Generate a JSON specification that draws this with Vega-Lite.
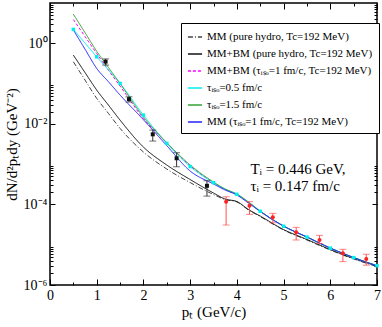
{
  "$schema": "https://vega.github.io/schema/vega-lite/v6.json",
  "width": 327,
  "height": 282,
  "autosize": "none",
  "padding": {"left": 50, "top": 3, "right": 5, "bottom": 42},
  "config": {
    "view": {"stroke": "black", "strokeWidth": 1.5},
    "axis": {"domain": false, "grid": false, "tickColor": "black", "tickWidth": 1, "labelFont": "Liberation Serif", "labelFontSize": 14, "labelColor": "black", "titleFont": "Liberation Serif", "titleFontSize": 15, "titleFontWeight": "normal", "titleColor": "black", "labelFlush": false}
  },
  "datasets": {
    "curves": [
      {"x": 0.5, "A": 0.3475, "B": 0.509, "C": 3.89, "D": 2.21, "E": 5.25, "F": 2.14},
      {"x": 0.75, "A": 0.122, "B": 0.1875, "C": 1.47, "D": 1.01, "E": 1.83, "F": 0.714},
      {"x": 1.0, "A": 0.043, "B": 0.069, "C": 0.556, "D": 0.462, "E": 0.635, "F": 0.238},
      {"x": 1.25, "A": 0.01824, "B": 0.0293, "C": 0.216, "D": 0.219, "E": 0.252, "F": 0.1114},
      {"x": 1.5, "A": 0.00773, "B": 0.0124, "C": 0.0867, "D": 0.101, "E": 0.1, "F": 0.0519},
      {"x": 2.0, "A": 0.002, "B": 0.00265, "C": 0.01355, "D": 0.0165, "E": 0.01476, "F": 0.01265},
      {"x": 2.5, "A": 0.000755, "B": 0.00095, "C": 0.00334, "D": 0.00328, "E": 0.00342, "F": 0.00288},
      {"x": 3.0, "A": 0.000349, "B": 0.000415, "C": 0.00091, "D": 0.00087, "E": 0.000955, "F": 0.000675},
      {"x": 3.5, "A": 0.000176, "B": 0.000192, "C": 0.000347, "D": 0.000347, "E": 0.00036, "F": 0.000321},
      {"x": 3.75, "A": 0.000132, "B": 0.000136, "C": 0.000234, "D": 0.000238, "E": 0.000241, "F": 0.000228},
      {"x": 4.0, "A": 0.000115, "B": 0.000118, "C": 0.000178, "D": 0.000178, "E": 0.000181, "F": 0.000171},
      {"x": 4.25, "A": 0.0000726, "B": 0.0000746, "C": 0.000112, "D": 0.000113, "E": 0.000115, "F": 0.000108},
      {"x": 4.5, "A": 0.00005, "B": 0.0000515, "C": 0.0000676, "D": 0.0000676, "E": 0.0000685, "F": 0.0000667},
      {"x": 5.0, "A": 0.0000232, "B": 0.0000238, "C": 0.0000288, "D": 0.0000288, "E": 0.0000291, "F": 0.0000291},
      {"x": 5.5, "A": 0.0000131, "B": 0.0000135, "C": 0.0000155, "D": 0.0000155, "E": 0.0000155, "F": 0.0000155},
      {"x": 6.0, "A": 0.00000738, "B": 0.0000076, "C": 0.00000822, "D": 0.00000822, "E": 0.00000828, "F": 0.00000828},
      {"x": 6.5, "A": 0.00000442, "B": 0.00000455, "C": 0.00000479, "D": 0.00000479, "E": 0.00000481, "F": 0.00000481},
      {"x": 7.0, "A": 0.00000288, "B": 0.00000296, "C": 0.00000302, "D": 0.00000302, "E": 0.00000305, "F": 0.00000296}
    ],
    "pts": [
      {"set": "low", "x": 1.19, "y": 0.35, "lo": 0.288, "hi": 0.41},
      {"set": "low", "x": 1.69, "y": 0.041, "lo": 0.0348, "hi": 0.047},
      {"set": "low", "x": 2.2, "y": 0.0055, "lo": 0.00374, "hi": 0.007},
      {"set": "low", "x": 2.71, "y": 0.0014, "lo": 0.00086, "hi": 0.00192},
      {"set": "low", "x": 3.36, "y": 0.00029, "lo": 0.000161, "hi": 0.000387},
      {"set": "high", "x": 3.77, "y": 0.000117, "lo": 0.0000308, "hi": 0.000155},
      {"set": "high", "x": 4.27, "y": 0.000093, "lo": 0.0000567, "hi": 0.000117},
      {"set": "high", "x": 4.77, "y": 0.000048, "lo": 0.000035, "hi": 0.00006},
      {"set": "high", "x": 5.27, "y": 0.0000203, "lo": 0.0000131, "hi": 0.000027},
      {"set": "high", "x": 5.77, "y": 0.000013, "lo": 0.0000108, "hi": 0.0000171},
      {"set": "high", "x": 6.27, "y": 0.0000061, "lo": 0.0000038, "hi": 0.0000077},
      {"set": "high", "x": 6.77, "y": 0.0000044, "lo": 0.0000031, "hi": 0.0000058}
    ],
    "notes": [
      {"x": 4.29, "y": 0.00076, "t": "Tᵢ = 0.446 GeV,"},
      {"x": 4.29, "y": 0.000286, "t": "τᵢ = 0.147 fm/c"}
    ]
  },
  "layer": [
    {
      "data": {"name": "curves"},
      "transform": [{"fold": ["A", "B", "C", "D", "E", "F"], "as": ["s", "y"]}],
      "mark": {"type": "line", "strokeWidth": 1, "interpolate": "monotone"},
      "encoding": {
        "x": {"field": "x", "type": "quantitative", "scale": {"domain": [0, 7], "nice": false, "zero": false},
              "axis": {"orient": "bottom", "values": [0, 1, 2, 3, 4, 5, 6, 7], "tickSize": -6, "labelPadding": 9, "format": "d", "title": "pₜ (GeV/c)", "titlePadding": 2}},
        "y": {"field": "y", "type": "quantitative", "scale": {"type": "log", "domain": [0.000001, 10], "nice": false},
              "axis": {"orient": "left", "values": [0.000001, 0.0001, 0.01, 1], "tickSize": -5, "labelPadding": 8, "labelExpr": "datum.value < 0.00001 ? '10⁻⁶' : datum.value < 0.001 ? '10⁻⁴' : datum.value < 0.1 ? '10⁻²' : '10⁰'", "title": "dN/d²pₜdy (GeV⁻²)", "titlePadding": 4}},
        "color": {"field": "s", "type": "nominal",
                  "scale": {"domain": ["A", "B", "C", "D", "E", "F"],
                            "range": ["#444444", "#111111", "#ff00ff", "#00eeee", "#33a033", "#2222ff"]},
                  "legend": {"orient": "none", "legendX": 131, "legendY": 20, "title": null, "strokeColor": "black", "fillColor": "white", "padding": 6, "labelFont": "Liberation Serif", "labelFontSize": 11, "labelColor": "black", "labelLimit": 300, "symbolType": "stroke", "symbolSize": 200, "symbolStrokeWidth": 1.5, "rowPadding": 4,
                             "labelExpr": "datum.label === 'A' ? 'MM (pure hydro, Tc=192 MeV)' : datum.label === 'B' ? 'MM+BM (pure hydro, Tc=192 MeV)' : datum.label === 'C' ? 'MM+BM (τᵢₛₒ=1 fm/c, Tc=192 MeV)' : datum.label === 'D' ? 'τᵢₛₒ=0.5 fm/c' : datum.label === 'E' ? 'τᵢₛₒ=1.5 fm/c' : 'MM (τᵢₛₒ=1 fm/c, Tc=192 MeV)'"}},
        "strokeDash": {"field": "s", "type": "nominal",
                  "scale": {"domain": ["A", "B", "C", "D", "E", "F"],
                            "range": [[5, 2, 1, 2], [1, 0], [3, 2], [1, 0], [1, 0], [1, 0]]},
                  "legend": {"orient": "none", "legendX": 131, "legendY": 20, "title": null, "strokeColor": "black", "fillColor": "white", "padding": 6, "labelFont": "Liberation Serif", "labelFontSize": 11, "labelColor": "black", "labelLimit": 300, "symbolType": "stroke", "symbolSize": 200, "symbolStrokeWidth": 1.5, "rowPadding": 4,
                             "labelExpr": "datum.label === 'A' ? 'MM (pure hydro, Tc=192 MeV)' : datum.label === 'B' ? 'MM+BM (pure hydro, Tc=192 MeV)' : datum.label === 'C' ? 'MM+BM (τᵢₛₒ=1 fm/c, Tc=192 MeV)' : datum.label === 'D' ? 'τᵢₛₒ=0.5 fm/c' : datum.label === 'E' ? 'τᵢₛₒ=1.5 fm/c' : 'MM (τᵢₛₒ=1 fm/c, Tc=192 MeV)'"}}
      }
    },
    {
      "data": {"name": "curves"},
      "transform": [{"filter": "(datum.x * 2) % 1 === 0"}],
      "mark": {"type": "point", "shape": "square", "filled": true, "size": 12, "color": "#00eeee", "opacity": 1},
      "encoding": {
        "x": {"field": "x", "type": "quantitative", "scale": {"domain": [0, 7], "nice": false, "zero": false},
              "axis": {"orient": "bottom", "values": [0.5, 1.5, 2.5, 3.5, 4.5, 5.5, 6.5], "tickSize": -3, "labels": false, "title": null}},
        "y": {"field": "D", "type": "quantitative", "scale": {"type": "log", "domain": [0.000001, 10], "nice": false},
              "axis": {"orient": "left", "values": [0.000002, 0.000003, 0.000004, 0.000005, 0.000006, 0.000007, 0.000008, 0.000009, 0.0002, 0.0003, 0.0004, 0.0005, 0.0006, 0.0007, 0.0008, 0.0009, 0.02, 0.03, 0.04, 0.05, 0.06, 0.07, 0.08, 0.09, 2, 3, 4, 5, 6, 7, 8, 9], "tickSize": -3, "labels": false, "title": null}}
      }
    },
    {
      "data": {"name": "pts"},
      "transform": [{"filter": "datum.set === 'low'"}],
      "mark": {"type": "errorbar", "ticks": {"size": 7, "color": "#333333"}, "rule": {"color": "#333333"}},
      "encoding": {
        "x": {"field": "x", "type": "quantitative", "scale": {"domain": [0, 7], "nice": false, "zero": false},
              "axis": {"orient": "top", "values": [0, 1, 2, 3, 4, 5, 6, 7], "tickSize": -6, "labels": false, "title": null}},
        "y": {"field": "lo", "type": "quantitative", "scale": {"type": "log", "domain": [0.000001, 10], "nice": false},
              "axis": {"orient": "right", "values": [0.000001, 0.0001, 0.01, 1], "tickSize": -5, "labels": false, "title": null}},
        "y2": {"field": "hi"}
      }
    },
    {
      "data": {"name": "pts"},
      "transform": [{"filter": "datum.set === 'high'"}],
      "mark": {"type": "errorbar", "ticks": {"size": 7, "color": "#ff5050"}, "rule": {"color": "#ff5050"}},
      "encoding": {
        "x": {"field": "x", "type": "quantitative", "scale": {"domain": [0, 7], "nice": false, "zero": false},
              "axis": {"orient": "top", "values": [0.5, 1.5, 2.5, 3.5, 4.5, 5.5, 6.5], "tickSize": -3, "labels": false, "title": null}},
        "y": {"field": "lo", "type": "quantitative", "scale": {"type": "log", "domain": [0.000001, 10], "nice": false},
              "axis": {"orient": "right", "values": [0.000002, 0.000003, 0.000004, 0.000005, 0.000006, 0.000007, 0.000008, 0.000009, 0.0002, 0.0003, 0.0004, 0.0005, 0.0006, 0.0007, 0.0008, 0.0009, 0.02, 0.03, 0.04, 0.05, 0.06, 0.07, 0.08, 0.09, 2, 3, 4, 5, 6, 7, 8, 9], "tickSize": -3, "labels": false, "title": null}},
        "y2": {"field": "hi"}
      }
    },
    {
      "data": {"name": "pts"},
      "transform": [{"filter": "datum.set === 'low'"}],
      "mark": {"type": "point", "shape": "square", "filled": true, "size": 16, "color": "#111111", "opacity": 1},
      "encoding": {
        "x": {"field": "x", "type": "quantitative", "scale": {"domain": [0, 7], "nice": false, "zero": false}, "axis": null},
        "y": {"field": "y", "type": "quantitative", "scale": {"type": "log", "domain": [0.000001, 10], "nice": false}, "axis": null}
      }
    },
    {
      "data": {"name": "pts"},
      "transform": [{"filter": "datum.set === 'high'"}],
      "mark": {"type": "point", "shape": "circle", "filled": true, "size": 16, "color": "#ff2020", "opacity": 1},
      "encoding": {
        "x": {"field": "x", "type": "quantitative", "scale": {"domain": [0, 7], "nice": false, "zero": false}, "axis": null},
        "y": {"field": "y", "type": "quantitative", "scale": {"type": "log", "domain": [0.000001, 10], "nice": false}, "axis": null}
      }
    },
    {
      "data": {"name": "notes"},
      "mark": {"type": "text", "align": "left", "baseline": "middle", "font": "Liberation Serif", "fontSize": 15, "color": "black"},
      "encoding": {
        "x": {"field": "x", "type": "quantitative", "scale": {"domain": [0, 7], "nice": false, "zero": false}, "axis": null},
        "y": {"field": "y", "type": "quantitative", "scale": {"type": "log", "domain": [0.000001, 10], "nice": false}, "axis": null},
        "text": {"field": "t"}
      }
    }
  ],
  "resolve": {"axis": {"x": "independent", "y": "independent"}}
}
